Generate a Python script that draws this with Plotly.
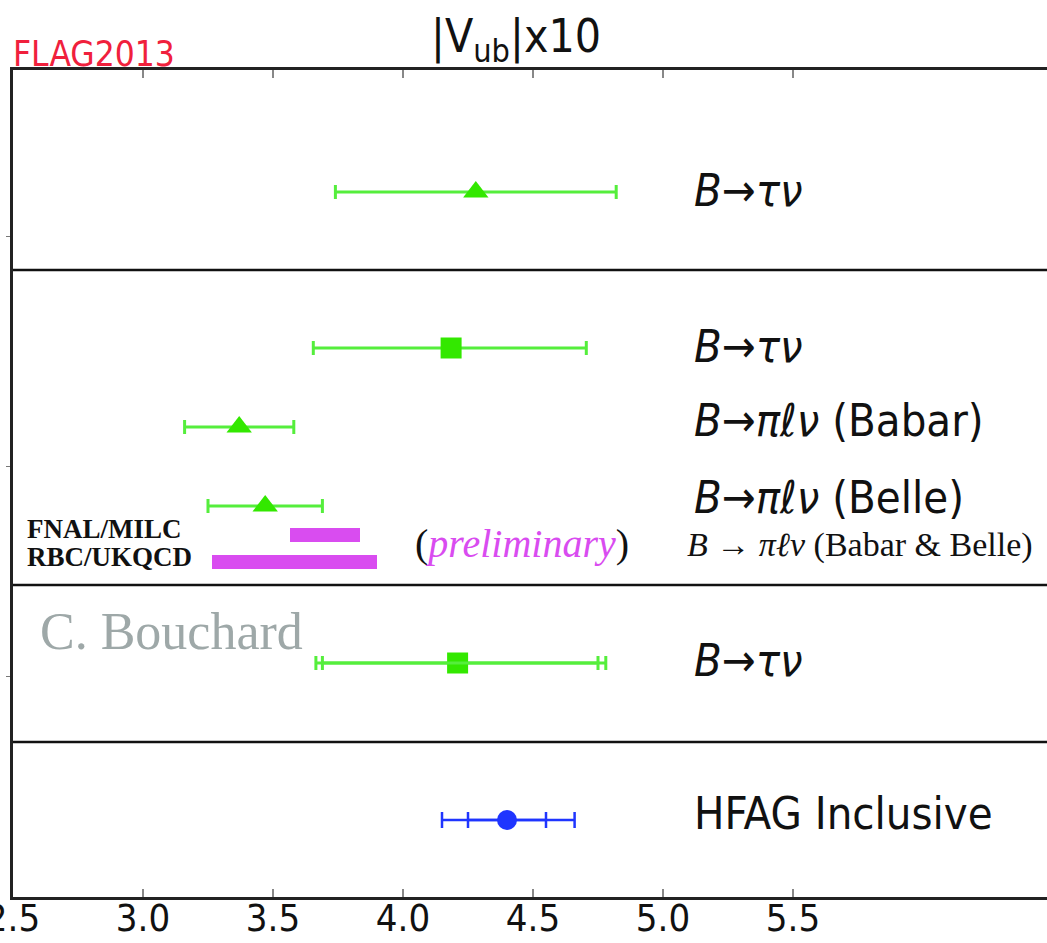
import plotly.graph_objects as go

# |V_ub| x 10^3 determinations
tri_names = ["B→τν (top)", "B→πℓν (Babar)", "B→πℓν (Belle)"]
tri_vals = [4.28, 3.37, 3.47]
tri_lo = [3.74, 3.16, 3.25]
tri_hi = [4.82, 3.58, 3.69]

sq_names = ["B→τν (middle)", "B→τν (lower)"]
sq_vals = [4.185, 4.21]
sq_lo = [3.655, 3.665]
sq_hi = [4.705, 4.78]
sq_inner_lo = [None, 3.69]
sq_inner_hi = [None, 4.75]

hfag_val = 4.40
hfag_lo, hfag_hi = 4.15, 4.66
hfag_stat_lo, hfag_stat_hi = 4.25, 4.55

lattice_names = ["FNAL/MILC", "RBC/UKQCD"]
lattice_lo = [3.565, 3.265]
lattice_hi = [3.835, 3.90]

x_ticks = [2.5, 3.0, 3.5, 4.0, 4.5, 5.0, 5.5]
x_tick_text = ["2.5", "3.0", "3.5", "4.0", "4.5", "5.0", "5.5"]

# vertical layout (rows counted downward from the top of the frame)
tri_rows = [122, 357, 436]
sq_rows = [278, 593]
hfag_row = 750
lattice_rows = [465, 492]
panel_breaks = [200, 515, 672]
side_ticks = [166, 396, 606]
Y_SPAN = 827

GREEN = "#33e800"
GREEN_BAR = "#55ee3c"
BLUE = "#1f35ff"
MAGENTA = "#d94cf0"
SANS = "DejaVu Sans Condensed, DejaVu Sans"
SERIF = "Liberation Serif, DejaVu Serif"

fig = go.Figure()

# green triangles
fig.add_trace(go.Scatter(
    x=tri_vals, y=tri_rows, mode="markers",
    marker=dict(symbol="triangle-up", size=22, color=GREEN),
    error_x=dict(type="data", symmetric=False,
                 array=[h - v for h, v in zip(tri_hi, tri_vals)],
                 arrayminus=[v - l for v, l in zip(tri_vals, tri_lo)],
                 color=GREEN_BAR, thickness=3, width=7),
    text=tri_names, hoverinfo="text+x", showlegend=False))

# green squares
fig.add_trace(go.Scatter(
    x=sq_vals, y=sq_rows, mode="markers",
    marker=dict(symbol="square", size=21, color=GREEN),
    error_x=dict(type="data", symmetric=False,
                 array=[h - v for h, v in zip(sq_hi, sq_vals)],
                 arrayminus=[v - l for v, l in zip(sq_vals, sq_lo)],
                 color=GREEN_BAR, thickness=3, width=7),
    text=sq_names, hoverinfo="text+x", showlegend=False))

# inner (statistical) caps on the lower square
inner_x = [v for v, l in zip(sq_vals, sq_inner_lo) if l is not None]
inner_y = [r for r, l in zip(sq_rows, sq_inner_lo) if l is not None]
inner_p = [h - v for v, h in zip(sq_vals, sq_inner_hi) if h is not None]
inner_m = [v - l for v, l in zip(sq_vals, sq_inner_lo) if l is not None]
fig.add_trace(go.Scatter(
    x=inner_x, y=inner_y, mode="markers",
    marker=dict(size=2, color="rgba(0,0,0,0)"),
    error_x=dict(type="data", symmetric=False, array=inner_p, arrayminus=inner_m,
                 color=GREEN_BAR, thickness=3, width=7),
    hoverinfo="skip", showlegend=False))

# HFAG inclusive (blue)
fig.add_trace(go.Scatter(
    x=[hfag_val], y=[hfag_row], mode="markers",
    marker=dict(size=2, color="rgba(0,0,0,0)"),
    error_x=dict(type="data", symmetric=False,
                 array=[hfag_stat_hi - hfag_val], arrayminus=[hfag_val - hfag_stat_lo],
                 color=BLUE, thickness=2.5, width=8),
    hoverinfo="skip", showlegend=False))
fig.add_trace(go.Scatter(
    x=[hfag_val], y=[hfag_row], mode="markers",
    marker=dict(symbol="circle", size=20, color=BLUE),
    error_x=dict(type="data", symmetric=False,
                 array=[hfag_hi - hfag_val], arrayminus=[hfag_val - hfag_lo],
                 color=BLUE, thickness=2.5, width=8),
    text=["HFAG Inclusive"], hoverinfo="text+x", showlegend=False))

# lattice bands
fig.add_trace(go.Bar(
    orientation="h", y=lattice_rows,
    base=lattice_lo, x=[h - l for h, l in zip(lattice_hi, lattice_lo)],
    width=14, marker=dict(color=MAGENTA, line=dict(width=0)),
    text=lattice_names, textposition="none", hoverinfo="text",
    showlegend=False))

# panel separators
for yb in panel_breaks:
    fig.add_shape(type="line", xref="paper", x0=0, x1=1, yref="y", y0=yb, y1=yb,
                  line=dict(color="#111", width=2.5))

# right-hand labels
label_x = 5.11
labels = [
    ("<i>B</i>→<i>τν</i>", 120),
    ("<i>B</i>→<i>τν</i>", 276),
    ("<i>B</i>→<i>πℓν</i> (Babar)", 350),
    ("<i>B</i>→<i>πℓν</i> (Belle)", 427),
    ("<i>B</i>→<i>τν</i>", 590),
    ("HFAG Inclusive", 743),
]
for txt, row in labels:
    fig.add_annotation(x=label_x, y=row, text=txt, showarrow=False,
                       xanchor="left", yanchor="middle",
                       font=dict(family=SANS, size=45, color="#111"))

fig.add_annotation(x=5.085, y=475, text="<i>B</i> → <i>πℓν</i> (Babar &amp; Belle)",
                   showarrow=False, xanchor="left", yanchor="middle",
                   font=dict(family=SERIF, size=34, color="#111"))
fig.add_annotation(x=4.458, y=473,
                   text="(<span style='color:%s'><i>preliminary</i></span>)" % MAGENTA,
                   showarrow=False, xanchor="center", yanchor="middle",
                   font=dict(family=SERIF, size=40, color="#111"))

for name, row in zip(lattice_names, [459, 487]):
    fig.add_annotation(x=2.545, y=row, text="<b>%s</b>" % name, showarrow=False,
                       xanchor="left", yanchor="middle",
                       font=dict(family=SERIF, size=27, color="#111"))

fig.add_annotation(x=2.595, y=561, text="C. Bouchard", showarrow=False,
                   xanchor="left", yanchor="middle",
                   font=dict(family=SERIF, size=52, color="#9ea8a8"))

# header texts
fig.add_annotation(xref="paper", yref="paper", x=-0.002, y=0.993,
                   text="FLAG2013", showarrow=False, xanchor="left", yanchor="bottom",
                   font=dict(family=SANS, size=35, color="#f0203c"))
fig.add_annotation(xref="paper", yref="paper", x=0.486, y=0.998,
                   text="|V<sub>ub</sub>|x10", showarrow=False,
                   xanchor="center", yanchor="bottom",
                   font=dict(family=SANS, size=46, color="#111"))

fig.update_layout(
    width=1047, height=943,
    margin=dict(l=13, r=0, t=70, b=46),
    paper_bgcolor="white", plot_bgcolor="white",
    bargap=0,
    xaxis=dict(range=[2.5, 2.5 + 1034 / 260], tickvals=x_ticks, ticktext=x_tick_text,
               ticks="inside", ticklen=8, tickcolor="#888", tickwidth=1.5,
               showline=True, linecolor="#222", linewidth=2.5, mirror="ticks",
               showgrid=False, zeroline=False, automargin=False,
               ticklabeloverflow="allow", ticklabelstandoff=-14,
               tickfont=dict(family=SANS, size=38, color="#111")),
    yaxis=dict(range=[Y_SPAN, 0], tickvals=side_ticks,
               ticks="outside", ticklen=4, tickcolor="#777",
               showline=True, linecolor="#222", linewidth=2.5, mirror=False,
               showgrid=False, zeroline=False, showticklabels=False,
               automargin=False),
)

fig.write_html("out.html")
